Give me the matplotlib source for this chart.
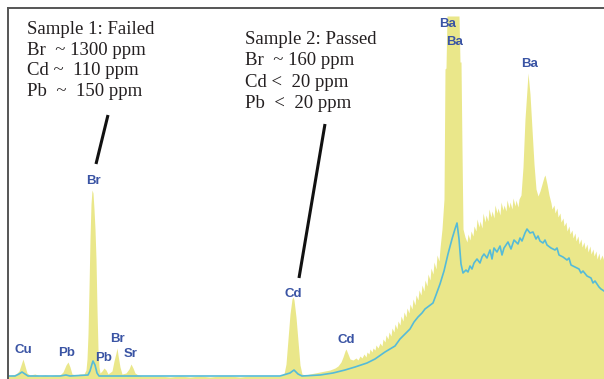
import matplotlib
matplotlib.use("Agg")
import matplotlib.pyplot as plt

# Spectrum 1 (yellow fill): channel position, intensity (counts, arbitrary)
ch_yellow = [8, 12, 16, 19, 21, 23, 25, 27, 30, 35, 40, 45, 50, 55, 60, 63, 66, 68, 70, 72,
             76, 80, 84, 86, 87, 88, 89, 90, 91, 92, 93, 94, 95, 96, 97, 98, 99, 100, 102, 104, 106, 108,
             112, 114, 116, 117, 118, 120, 122, 126, 129, 131, 133, 135, 138, 142, 150, 160, 170,
             180, 190, 200, 210, 220, 230, 240, 250, 260, 270, 280, 284, 286, 288, 290, 292, 293,
             294, 296, 298, 300, 302, 305, 310, 315, 320, 325, 330, 335, 338, 341, 343, 345, 346,
             348, 350, 353, 356, 358, 360, 362, 364, 366, 367, 369, 370, 372, 373, 375, 376, 378,
             380, 382, 383, 385, 386, 388, 389, 391, 392, 394, 395, 397, 398, 400, 401, 403, 404,
             406, 407, 409, 410, 412, 413, 415, 416, 418, 419, 421, 422, 424, 425, 427, 428, 430,
             431, 433, 434, 436, 437, 439, 440, 442, 444, 445, 446, 447, 459, 460, 461, 462, 463,
             465, 467, 468, 470, 471, 473, 474, 476, 477, 479, 480, 482, 483, 485, 486, 488, 489,
             491, 492, 494, 495, 497, 498, 500, 501, 503, 504, 506, 507, 509, 510, 512, 513, 515,
             516, 518, 519, 521, 523, 525, 527, 528, 530, 532, 534, 536, 538, 540, 542, 544, 545,
             547, 549, 551, 552, 554, 555, 557, 558, 560, 561, 563, 564, 566, 567, 569, 570, 572,
             573, 575, 576, 578, 579, 581, 582, 584, 585, 587, 588, 590, 591, 593, 594, 596, 597,
             599, 600, 602, 604]
int_yellow = [3, 4, 5, 8, 14, 20, 13, 6, 4, 5, 3, 4, 3, 4, 4, 7, 14, 17, 12, 5,
              4, 5, 5, 9, 20, 45, 90, 140, 175, 189, 186, 170, 150, 120, 70, 30, 12, 6, 8, 11, 9, 5,
              8, 18, 26, 31, 24, 12, 5, 6, 10, 15, 11, 6, 4, 3, 3, 3, 2,
              3, 2, 3, 2, 3, 3, 2, 3, 3, 3, 3, 5, 15, 40, 65, 80, 82,
              79, 62, 38, 14, 5, 4, 5, 6, 7, 8, 9, 11, 13, 17, 22, 28, 30,
              25, 20, 19, 21, 19, 23, 21, 25, 22, 27, 25, 30, 27, 31, 29, 34, 31,
              36, 33, 40, 37, 44, 40, 47, 43, 51, 47, 55, 50, 58, 54, 63, 58, 67,
              62, 71, 66, 75, 70, 80, 74, 84, 79, 89, 84, 94, 88, 99, 93, 105, 99,
              111, 105, 117, 110, 124, 118, 131, 150, 180, 310, 311, 363, 363, 317, 317, 230, 150,
              142, 137, 145, 139, 148, 143, 153, 148, 160, 152, 158, 151, 166, 157, 164, 158, 170,
              162, 168, 161, 174, 166, 171, 164, 177, 169, 174, 168, 179, 171, 177, 170, 181, 173,
              179, 172, 180, 184, 212, 260, 290, 306, 285, 250, 215, 190, 183, 188, 195, 202, 204,
              195, 184, 176, 170, 174, 166, 171, 162, 166, 157, 161, 153, 157, 148, 153, 145, 149,
              141, 146, 138, 143, 135, 140, 132, 137, 130, 135, 127, 133, 125, 130, 123, 128, 120,
              126, 119, 124, 118]

# Spectrum 2 (blue line)
ch_blue = [8, 15, 19, 22, 25, 28, 60, 66, 70, 88, 90, 92, 93, 95, 97, 99, 280, 290, 294, 298,
           302, 320, 333, 345, 355, 367, 375, 385, 390, 395, 400, 405, 410, 414, 418, 422, 425,
           429, 433, 436, 440, 444, 448, 452, 455, 457, 459, 461, 463, 466, 468, 470, 472, 474,
           477, 480, 482, 484, 487, 490, 492, 494, 497, 500, 502, 504, 508, 511, 514, 518, 520,
           522, 525, 527, 530, 533, 536, 538, 540, 543, 545, 547, 551, 555, 557, 559, 563, 567,
           569, 571, 575, 579, 581, 583, 587, 591, 593, 595, 599, 601, 604]
int_blue = [3, 3, 5, 7, 5, 3, 3, 4, 3, 4, 8, 15, 18, 14, 6, 3, 3, 6, 9, 5,
            3, 4, 6, 9, 12, 16, 20, 27, 30, 33, 40, 45, 50, 57, 62, 66, 70,
            73, 76, 84, 95, 108, 125, 140, 150, 156, 140, 115, 106, 109, 107, 113, 110, 116,
            120, 116, 122, 125, 121, 129, 120, 131, 127, 133, 124, 131, 137, 130, 139, 135, 141,
            138, 146, 150, 146, 147, 140, 143, 138, 136, 139, 134, 131, 129, 131, 124, 122, 119,
            121, 114, 112, 110, 106, 108, 103, 101, 96, 98, 92, 90, 88]

# Peak labels: element, channel, label height
peak_names = ["Cu", "Pb", "Br", "Pb", "Br", "Sr", "Cd", "Cd", "Ba", "Ba", "Ba"]
peak_ch = [23, 67, 93, 104, 117, 131, 293, 346, 448, 455, 530]
peak_lab_h = [29, 26, 198, 21, 40, 25, 85, 39, 355, 337, 315]

sample1_lines = ["Sample 1: Failed", "Br  ~ 1300 ppm", "Cd ~  110 ppm", "Pb  ~  150 ppm"]
sample2_lines = ["Sample 2: Passed", "Br  ~ 160 ppm", "Cd <  20 ppm", "Pb  <  20 ppm"]

W, H = 604, 379
fig = plt.figure(figsize=(W / 100, H / 100), dpi=100)
ax = fig.add_axes([8 / W, 0, (W - 8) / W, (H - 8) / H])
ax.set_xlim(8, 604)
ax.set_ylim(0, H - 8)

yellow = "#EAE78A"
ax.fill_between(ch_yellow, int_yellow, 0, color=yellow, lw=0, zorder=1)
ax.plot(ch_blue, int_blue, color="#55BBD8", lw=1.2, zorder=2)

for name, cx, hy in zip(peak_names, peak_ch, peak_lab_h):
    ax.text(cx, hy, name, ha="center", va="center", fontsize=9.5,
            family="Liberation Sans", fontweight="bold", color="#3A54A4", zorder=4)

# annotations (image-pixel coordinates converted to data)
def iy(y):
    return H - y

for i, s in enumerate(sample1_lines):
    ax.text(27, iy(34 + 20.7 * i), s, ha="left", va="baseline", fontsize=13.5,
            family="Liberation Serif", color="#231F20", zorder=5)
for i, s in enumerate(sample2_lines):
    ax.text(245, iy(44 + 21.3 * i), s, ha="left", va="baseline", fontsize=13.5,
            family="Liberation Serif", color="#231F20", zorder=5)

ax.plot([108, 96], [iy(115), iy(164)], color="#111111", lw=2.2, solid_capstyle="butt", zorder=5)
ax.plot([325, 299], [iy(124), iy(278)], color="#111111", lw=2.2, solid_capstyle="butt", zorder=5)

for side in ["right", "bottom"]:
    ax.spines[side].set_visible(False)
for side in ["top", "left"]:
    ax.spines[side].set_color("#555555")
    ax.spines[side].set_linewidth(1.4)
ax.set_xticks([])
ax.set_yticks([])

fig.savefig("out.png", dpi=100)
